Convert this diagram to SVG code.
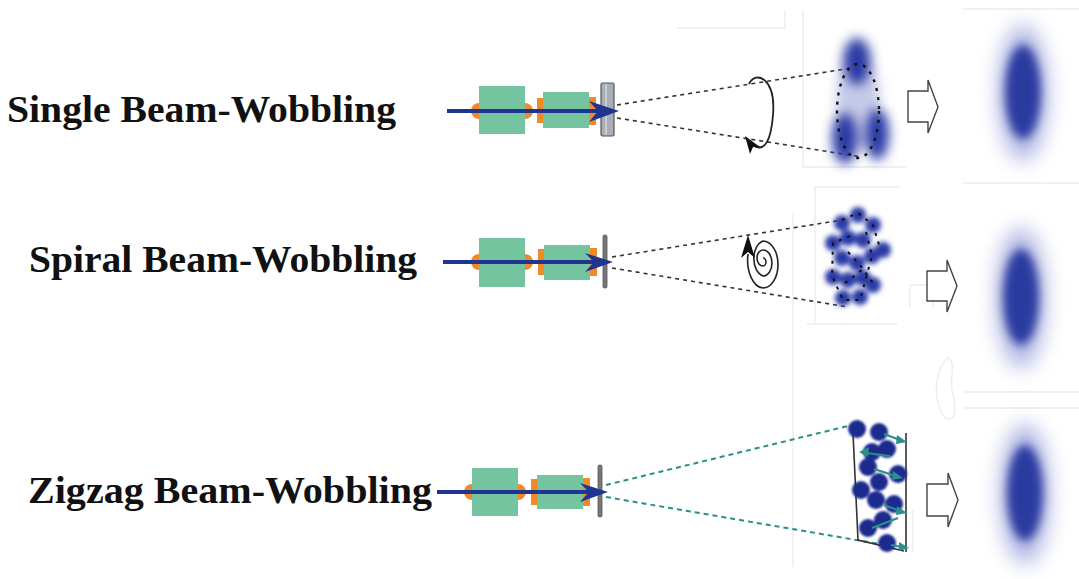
<svg xmlns="http://www.w3.org/2000/svg" width="1079" height="579" viewBox="0 0 1079 579">
  <defs>
    <style>
      .label { font-family: "Liberation Serif", "Times New Roman", serif; font-weight: bold; font-size: 38px; fill: #111; }
      .box { fill: #74c49f; }
      .lug { fill: #f08a26; }
      .beam { stroke: #1f3590; stroke-width: 4; fill: none; }
      .head { fill: #1f3590; }
      .ray { stroke: #333; stroke-width: 1.6; stroke-dasharray: 4 4; fill: none; }
      .ray-teal { stroke: #2a8f88; stroke-width: 2; stroke-dasharray: 5 4; fill: none; }
      .faint { stroke: #ececec; stroke-width: 1.3; fill: none; }
      .hollow { fill: #fff; stroke: #444; stroke-width: 1.4; stroke-linejoin: miter; }
      .spot { fill: #2c3aa6; }
      .dot { fill: #1c2b8e; }
      .zz { stroke: #2a8f88; stroke-width: 2.2; fill: none; }
      .zzhead { fill: #2a8f88; }
      .rim { stroke: #333; stroke-width: 1.6; fill: none; }
    </style>
    <filter id="soft" x="-100%" y="-100%" width="300%" height="300%">
      <feGaussianBlur stdDeviation="6"/>
    </filter>
    <filter id="softS" x="-100%" y="-100%" width="300%" height="300%">
      <feGaussianBlur stdDeviation="2.6"/>
    </filter>
    <filter id="haze" x="-100%" y="-50%" width="300%" height="200%">
      <feGaussianBlur stdDeviation="10"/>
    </filter>
    <filter id="core" x="-100%" y="-50%" width="300%" height="200%">
      <feGaussianBlur stdDeviation="5"/>
    </filter>
    <filter id="edge" x="-50%" y="-50%" width="200%" height="200%">
      <feGaussianBlur stdDeviation="0.8"/>
    </filter>
  </defs>

  <!-- faint background panel edges -->
  <g id="panels">
    <path class="faint" d="M677,28 H785 V10"/>
    <path class="faint" d="M803,10 V167 H907"/>
    <path class="faint" d="M963,9 H1079 M963,183 H1079"/>
    <path class="faint" d="M815,323 V187 H900"/>
    <path class="faint" d="M807,324 H897"/>
    <path class="faint" d="M793,213 V567"/>
    <path class="faint" d="M910,285 H933 V308 M910,285 V308"/>
    <path class="faint" d="M965,392 H1079 M965,408 H1079"/>
    <path class="faint" d="M948,357 C934,372 932,400 945,418 C958,424 956,405 952,390 C950,375 956,362 948,357 Z"/>
    <path class="faint" d="M913,510 V552"/>
  </g>

  <!-- row labels -->
  <g id="label-single"><text class="label" x="7" y="122" textLength="389" lengthAdjust="spacingAndGlyphs">Single Beam-Wobbling</text></g>
  <g id="label-spiral"><text class="label" x="29" y="272" textLength="388" lengthAdjust="spacingAndGlyphs">Spiral Beam-Wobbling</text></g>
  <g id="label-zigzag"><text class="label" x="28" y="503" textLength="404" lengthAdjust="spacingAndGlyphs">Zigzag Beam-Wobbling</text></g>

  <!-- optics: single -->
  <g id="optics-single">
    <circle class="lug" cx="479" cy="111" r="8"/>
    <circle class="lug" cx="525" cy="111" r="8"/>
    <rect class="box" x="479" y="86" width="46" height="48"/>
    <rect class="lug" x="537" y="98" width="7" height="25"/>
    <rect class="lug" x="589" y="97" width="7" height="28"/>
    <rect class="box" x="543" y="92" width="46" height="36"/>
    <rect x="601" y="83" width="13" height="53" rx="1.5" fill="#a9afb7" stroke="#555" stroke-width="1.2"/>
    <line x1="606" y1="84" x2="606" y2="135" stroke="#d4d8dd" stroke-width="1.5"/>
    <line class="beam" x1="447" y1="111" x2="605" y2="111"/>
    <polygon class="head" points="619,111 589,101 598,111 589,122"/>
  </g>

  <!-- optics: spiral -->
  <g id="optics-spiral">
    <circle class="lug" cx="479" cy="262" r="8"/>
    <circle class="lug" cx="525" cy="262" r="8"/>
    <rect class="box" x="479" y="238" width="46" height="49"/>
    <rect class="lug" x="538" y="249" width="7" height="26"/>
    <rect class="lug" x="590" y="248" width="7" height="28"/>
    <rect class="box" x="544" y="245" width="46" height="35"/>
    <rect x="603" y="235" width="4" height="53" rx="1.5" fill="#777" stroke="#555" stroke-width="0.8"/>
    <line class="beam" x1="443" y1="262" x2="600" y2="262"/>
    <polygon class="head" points="613,262 585,253 594,262 585,272"/>
  </g>

  <!-- optics: zigzag -->
  <g id="optics-zigzag">
    <circle class="lug" cx="472" cy="492" r="8"/>
    <circle class="lug" cx="518" cy="492" r="8"/>
    <rect class="box" x="472" y="468" width="46" height="48"/>
    <rect class="lug" x="531" y="479" width="7" height="26"/>
    <rect class="lug" x="583" y="478" width="7" height="28"/>
    <rect class="box" x="537" y="475" width="46" height="34"/>
    <rect x="598" y="465" width="4" height="52" rx="1.5" fill="#777" stroke="#555" stroke-width="0.8"/>
    <line class="beam" x1="437" y1="492" x2="595" y2="492"/>
    <polygon class="head" points="608,492 580,483 589,492 580,502"/>
  </g>

  <!-- connectors: scan cones -->
  <g id="connectors">
    <line class="ray" x1="617" y1="105" x2="858" y2="67"/>
    <line class="ray" x1="617" y1="118" x2="862" y2="157"/>
    <line class="ray" x1="612" y1="257" x2="842" y2="220"/>
    <line class="ray" x1="612" y1="268" x2="848" y2="307"/>
    <line class="ray-teal" x1="606" y1="485" x2="852" y2="425"/>
    <line class="ray-teal" x1="606" y1="497" x2="903" y2="548"/>
  </g>

  <!-- single: circular loop -->
  <g id="loop-single">
    <path d="M749,84 C756,70 776,78 773,115 C771,140 765,152 754,146" stroke="#222" stroke-width="1.8" fill="none"/>
    <polygon points="745,136 760,147 753,147 750,154" fill="#111"/>
  </g>

  <!-- spiral: spiral trace -->
  <g id="loop-spiral">
    <path d="M763,258 A3,4 0 0 1 763,266 A6,8 0 0 1 763,250 A9,13 0 0 1 763,276 A12,18 0 0 1 763,241 A15,23.5 0 0 1 763,288 A16,28 0 0 1 748,254" stroke="#222" stroke-width="1.6" fill="none"/>
    <polygon points="748,235 755,258 748,252 741,258" fill="#111"/>
  </g>

  <!-- single: three spots -->
  <g id="spots-single">
    <g filter="url(#soft)">
      <ellipse cx="858" cy="100" rx="22" ry="50" fill="#8e96d6" opacity="0.5"/>
      <ellipse class="spot" cx="857" cy="62" rx="14" ry="24"/>
      <ellipse class="spot" cx="845" cy="138" rx="13" ry="26"/>
      <ellipse class="spot" cx="877" cy="134" rx="12" ry="26"/>
    </g>
    <ellipse cx="858" cy="111" rx="21" ry="47" fill="none" stroke="#111" stroke-width="2.4" stroke-dasharray="3 6"/>
  </g>

  <!-- spiral: spot cluster -->
  <g id="spots-spiral">
    <g filter="url(#softS)">
      <circle class="spot" cx="842" cy="223" r="8"/>
      <circle class="spot" cx="858" cy="215" r="8"/>
      <circle class="spot" cx="873" cy="225" r="8"/>
      <circle class="spot" cx="833" cy="243" r="8"/>
      <circle class="spot" cx="848" cy="238" r="8"/>
      <circle class="spot" cx="863" cy="240" r="8"/>
      <circle class="spot" cx="883" cy="250" r="8"/>
      <circle class="spot" cx="872" cy="256" r="8"/>
      <circle class="spot" cx="842" cy="258" r="8"/>
      <circle class="spot" cx="857" cy="263" r="8"/>
      <circle class="spot" cx="833" cy="277" r="8"/>
      <circle class="spot" cx="848" cy="280" r="8"/>
      <circle class="spot" cx="863" cy="278" r="8"/>
      <circle class="spot" cx="873" cy="285" r="8"/>
      <circle class="spot" cx="843" cy="298" r="8"/>
      <circle class="spot" cx="860" cy="297" r="8"/>
    </g>
    <path d="M842,220 L858,213 L873,225 L880,248 M866,232 L872,256 L860,300 L843,300 L832,276 L833,243 L850,236 M848,252 L860,265 L873,283 M845,283 L862,270" fill="none" stroke="#111" stroke-width="2" stroke-dasharray="3 6"/>
  </g>

  <!-- zigzag: spot raster -->
  <g id="spots-zigzag">
    <path class="rim" d="M853,433 L858,540 L904,551 M906,433 V552"/>
    <g filter="url(#edge)">
      <circle class="dot" cx="857" cy="429" r="9"/>
      <circle class="dot" cx="879" cy="432" r="9"/>
      <circle class="dot" cx="872" cy="452" r="9"/>
      <circle class="dot" cx="887" cy="449" r="9"/>
      <circle class="dot" cx="868" cy="467" r="9"/>
      <circle class="dot" cx="898" cy="474" r="9"/>
      <circle class="dot" cx="879" cy="482" r="9"/>
      <circle class="dot" cx="861" cy="490" r="9"/>
      <circle class="dot" cx="876" cy="500" r="9"/>
      <circle class="dot" cx="894" cy="504" r="9"/>
      <circle class="dot" cx="883" cy="520" r="9"/>
      <circle class="dot" cx="868" cy="528" r="9"/>
      <circle class="dot" cx="887" cy="543" r="9"/>
    </g>
    <path class="zz" d="M884,434 L900,440 M890,456 L866,453 M874,469 L896,476 M884,505 L900,511 M872,528 L898,518 M891,545 L902,547"/>
    <polygon class="zzhead" points="907,442 897,435 896,444"/>
    <polygon class="zzhead" points="859,452 869,447 868,457"/>
    <polygon class="zzhead" points="903,478 893,471 892,480"/>
    <polygon class="zzhead" points="907,513 897,506 896,515"/>
    <polygon class="zzhead" points="909,548 899,542 899,551"/>
  </g>

  <!-- transfer arrows -->
  <g id="arrow-single"><path class="hollow" d="M908,91 H928 V80 L938,107 L928,133 V122 H908 Z"/></g>
  <g id="arrow-spiral"><path class="hollow" d="M927,271 H947 V260 L957,286 L947,312 V301 H927 Z"/></g>
  <g id="arrow-zigzag"><path class="hollow" d="M927,484 H948 V473 L958,500 L948,527 V516 H927 Z"/></g>

  <!-- resulting melt-pool spots -->
  <g id="result-single">
    <ellipse cx="1023" cy="93" rx="25" ry="68" fill="#6f79cc" opacity="0.55" filter="url(#haze)"/>
    <ellipse cx="1023" cy="92" rx="18" ry="47" fill="#2a3aa0" filter="url(#core)"/>
  </g>
  <g id="result-spiral">
    <ellipse cx="1021" cy="298" rx="25" ry="70" fill="#6f79cc" opacity="0.55" filter="url(#haze)"/>
    <ellipse cx="1021" cy="297" rx="18" ry="48" fill="#2a3aa0" filter="url(#core)"/>
  </g>
  <g id="result-zigzag">
    <ellipse cx="1025" cy="494" rx="25" ry="70" fill="#6f79cc" opacity="0.55" filter="url(#haze)"/>
    <ellipse cx="1025" cy="493" rx="18" ry="48" fill="#2a3aa0" filter="url(#core)"/>
  </g>
</svg>
